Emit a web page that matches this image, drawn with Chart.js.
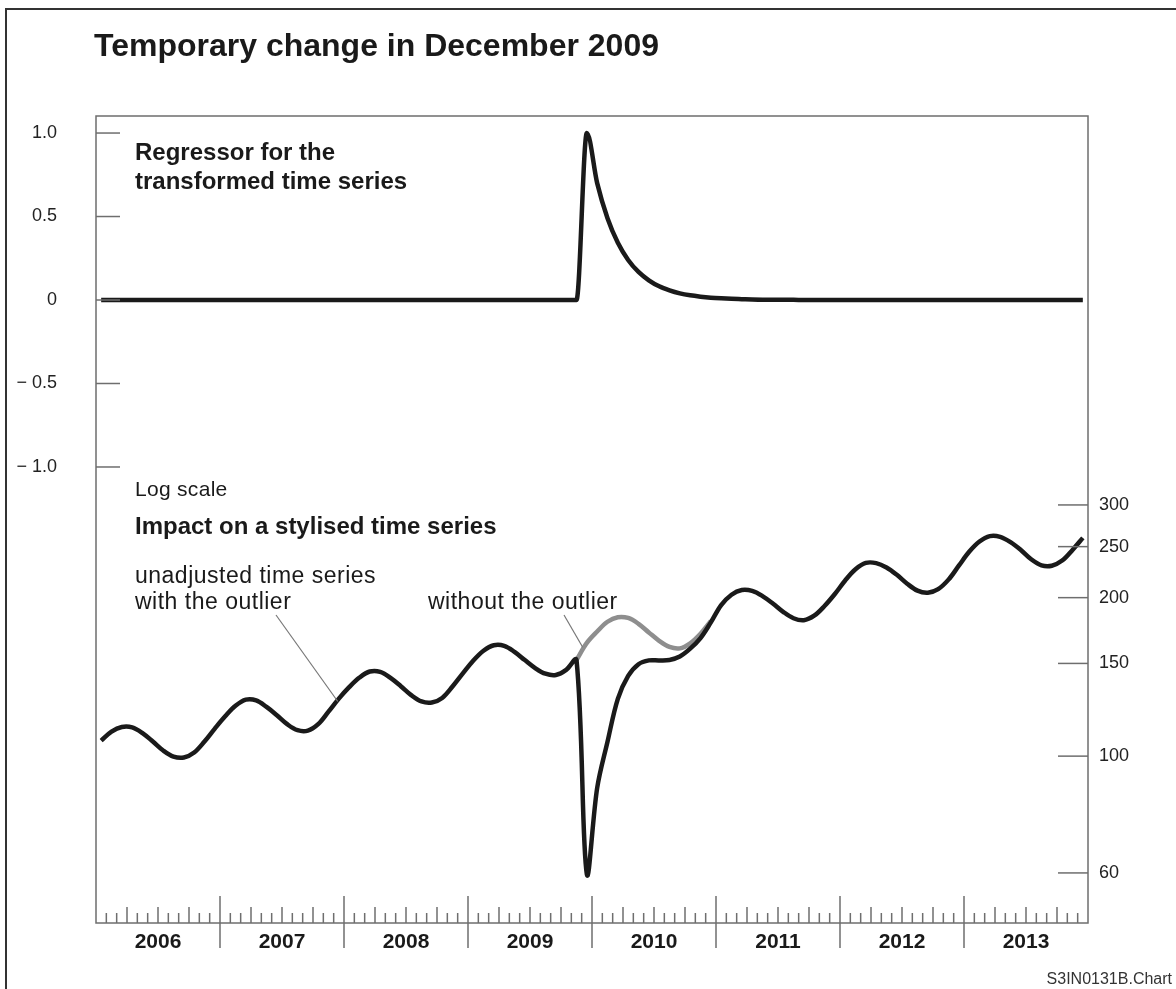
<!DOCTYPE html>
<html>
<head>
<meta charset="utf-8">
<script src="https://cdn.jsdelivr.net/npm/chart.js@4.4.1/dist/chart.umd.min.js"></script>
<style>
  html, body { margin: 0; padding: 0; background: #fff; }
  canvas { display: block; }
</style>
</head>
<body>
<canvas id="tcChart" width="1176" height="989"></canvas>
<script>
// x categories: monthly, Jan 2006 - Dec 2013
const years = ['2006', '2007', '2008', '2009', '2010', '2011', '2012', '2013'];
const monthNames = ['01', '02', '03', '04', '05', '06', '07', '08', '09', '10', '11', '12'];
const months = [];
years.forEach(y => monthNames.forEach(m => months.push(y + '-' + m)));

// upper panel: TC regressor (left axis)
const regressor = [
  0, 0, 0, 0, 0, 0, 0, 0, 0, 0, 0, 0,
  0, 0, 0, 0, 0, 0, 0, 0, 0, 0, 0, 0,
  0, 0, 0, 0, 0, 0, 0, 0, 0, 0, 0, 0,
  0, 0, 0, 0, 0, 0, 0, 0, 0, 0, 0, 1.0,
  0.7, 0.49, 0.343, 0.24, 0.168, 0.118, 0.082, 0.058, 0.04, 0.028, 0.02, 0.014,
  0.01, 0.007, 0.005, 0.003, 0.002, 0.002, 0.001, 0.001, 0, 0, 0, 0,
  0, 0, 0, 0, 0, 0, 0, 0, 0, 0, 0, 0,
  0, 0, 0, 0, 0, 0, 0, 0, 0, 0, 0, 0
];

// lower panel: stylised series (right log axis)
const withOutlier = [
  107.0, 111.3, 113.6, 113.4, 110.6, 106.6, 102.5, 99.8, 99.4, 101.6, 106.6, 112.8,
  119.0, 124.6, 128.0, 127.6, 124.0, 119.6, 115.0, 112.0, 111.8, 115.0, 121.5, 128.6,
  135.2, 141.0, 144.8, 144.6, 140.8, 135.8, 130.6, 127.0, 126.4, 129.0, 135.6, 143.6,
  151.8, 158.6, 162.4, 162.0, 157.8, 152.2, 147.0, 143.4, 142.6, 145.8, 152.3, 59.7,
  87.0, 106.5, 128.5, 142.0, 149.5, 152.0, 152.0, 152.3, 154.6, 160.0, 167.6, 179.5,
  193.6, 202.6, 206.8, 206.0, 201.4, 195.0, 188.0, 182.8, 181.2, 184.8, 192.8, 203.2,
  215.6, 226.4, 232.8, 232.6, 228.2, 221.0, 212.6, 206.2, 204.4, 207.6, 216.4, 230.0,
  244.4, 255.6, 261.8, 261.0, 255.0, 246.4, 236.6, 230.4, 230.0, 235.2, 246.4, 259.8
];

const withoutOutlier = [
  null, null, null, null, null, null, null, null, null, null, null, null,
  null, null, null, null, null, null, null, null, null, null, null, null,
  null, null, null, null, null, null, null, null, null, null, null, null,
  null, null, null, null, null, null, null, null, null, null, 152.3, 164.1,
  172.5, 180.0, 183.6, 183.0, 178.4, 171.8, 165.6, 161.2, 160.2, 163.8, 170.8, 180.6,
  null, null, null, null, null, null, null, null, null, null, null, null,
  null, null, null, null, null, null, null, null, null, null, null, null,
  null, null, null, null, null, null, null, null, null, null, null, null
];

const leftTicks = [1, 0.5, 0, -0.5, -1];
const rightTicks = [60, 100, 150, 200, 250, 300];

const chartFont = '"Liberation Sans", Arial, Helvetica, sans-serif';
const ink = '#1a1a1a';
const axisGrey = '#6e6e6e';

function line(ctx, x1, y1, x2, y2) {
    ctx.beginPath();
    ctx.moveTo(x1, y1);
    ctx.lineTo(x2, y2);
    ctx.stroke();
}

// text with a little tracking, the original face runs a bit wider than Liberation
function label(ctx, text, x, y, font, spacing) {
    ctx.font = font;
    ctx.letterSpacing = spacing + 'px';
    ctx.fillText(text, x, y);
    ctx.letterSpacing = '0px';
}

// box, inner ticks, month ruler and all the text
const decorations = {
    id: 'decorations',
    afterDraw(chart) {
        const ctx = chart.ctx;
        const area = chart.chartArea;
        const xs = chart.scales.x;
        const yl = chart.scales.yReg;
        const yr = chart.scales.yLog;

        ctx.save();

        // outer frame (left + top)
        ctx.strokeStyle = '#333';
        ctx.lineWidth = 2;
        ctx.beginPath();
        ctx.moveTo(6, 989);
        ctx.lineTo(6, 9);
        ctx.lineTo(1176, 9);
        ctx.stroke();

        // plot box
        ctx.strokeStyle = axisGrey;
        ctx.lineWidth = 1.5;
        ctx.strokeRect(area.left, area.top, area.right - area.left, area.bottom - area.top);

        // inner y ticks
        leftTicks.forEach(v => {
            const y = yl.getPixelForValue(v);
            line(ctx, area.left, y, area.left + 24, y);
        });
        rightTicks.forEach(v => {
            const y = yr.getPixelForValue(v);
            line(ctx, area.right - 30, y, area.right, y);
        });

        // month ruler
        for (let i = 1; i < months.length; i++) {
            const x = xs.getPixelForValue(i - 0.5);
            if (i % 12 === 0) {
                line(ctx, x, area.bottom - 27, x, area.bottom + 25);
            } else {
                line(ctx, x, area.bottom - (i % 3 === 0 ? 16 : 10), x, area.bottom);
            }
        }

        ctx.fillStyle = ink;
        ctx.textBaseline = 'middle';

        // year labels centred in each year
        ctx.textAlign = 'center';
        years.forEach((y, k) => {
            const x0 = xs.getPixelForValue(k * 12 - 0.5);
            const x1 = xs.getPixelForValue(k * 12 + 11.5);
            label(ctx, y, (x0 + x1) / 2, area.bottom + 19, 'bold 21px ' + chartFont, 0);
        });

        // title and panel texts
        ctx.textAlign = 'left';
        label(ctx, 'Temporary change in December 2009', 94, 47, 'bold 32px ' + chartFont, 0);

        const bold = 'bold 24px ' + chartFont;
        label(ctx, 'Regressor for the', 135, 153, bold, 0);
        label(ctx, 'transformed time series', 135, 182, bold, 0);
        label(ctx, 'Impact on a stylised time series', 135, 527, bold, 0);

        label(ctx, 'Log scale', 135, 490, '21px ' + chartFont, 0.3);

        const plain = '23px ' + chartFont;
        label(ctx, 'unadjusted time series', 135, 577, plain, 0.5);
        label(ctx, 'with the outlier', 135, 603, plain, 0.5);
        label(ctx, 'without the outlier', 428, 603, plain, 0.5);

        // leader lines
        ctx.strokeStyle = '#777';
        ctx.lineWidth = 1.2;
        line(ctx, 276, 615, xs.getPixelForValue(22.9), yr.getPixelForValue(127));
        line(ctx, 564, 615, xs.getPixelForValue(46.6), yr.getPixelForValue(161));

        // source tag
        ctx.textAlign = 'right';
        ctx.fillStyle = '#333';
        label(ctx, 'S3IN0131B.Chart', 1172, 980, '16px ' + chartFont, 0);

        ctx.restore();
    }
};

const ctx = document.getElementById('tcChart').getContext('2d');
const tcChart = new Chart(ctx, {
    type: 'line',
    data: {
        labels: months,
        datasets: [
            {
                label: 'Regressor',
                data: regressor,
                yAxisID: 'yReg',
                borderColor: ink,
                borderWidth: 4.5,
                pointRadius: 0,
                tension: 0.4,
                cubicInterpolationMode: 'monotone',
                order: 0
            },
            {
                label: 'unadjusted time series with the outlier',
                data: withOutlier,
                yAxisID: 'yLog',
                borderColor: ink,
                borderWidth: 4.5,
                pointRadius: 0,
                tension: 0.35,
                order: 0
            },
            {
                label: 'without the outlier',
                data: withoutOutlier,
                yAxisID: 'yLog',
                borderColor: '#8e8e8e',
                borderWidth: 4.5,
                pointRadius: 0,
                tension: 0.35,
                order: 1
            }
        ]
    },
    options: {
        responsive: false,
        animation: false,
        devicePixelRatio: 1,
        layout: { padding: { top: 116, left: 0, right: 0, bottom: 0 } },
        plugins: {
            legend: { display: false },
            tooltip: { enabled: false }
        },
        scales: {
            x: {
                type: 'category',
                offset: true,
                grid: { display: false },
                border: { display: false },
                ticks: { display: false },
                afterFit: s => { s.height = 66; }
            },
            yReg: {
                type: 'linear',
                position: 'left',
                min: -3.731,
                max: 1.102,
                bounds: 'data',
                grid: { display: false, drawTicks: false },
                border: { display: false },
                afterBuildTicks: s => { s.ticks = leftTicks.map(v => ({ value: v })); },
                afterFit: s => { s.width = 96; },
                ticks: {
                    padding: 39,
                    color: '#222',
                    font: { family: chartFont, size: 18 },
                    callback: v => v === 0 ? '0' : (v < 0 ? '\u2212 ' : '') + Math.abs(v).toFixed(1)
                }
            },
            yLog: {
                type: 'logarithmic',
                position: 'right',
                min: 48.2,
                max: 1644,
                bounds: 'data',
                grid: { display: false, drawTicks: false },
                border: { display: false },
                afterBuildTicks: s => { s.ticks = rightTicks.map(v => ({ value: v })); },
                afterFit: s => { s.width = 88; },
                ticks: {
                    padding: 11,
                    color: '#222',
                    font: { family: chartFont, size: 18 },
                    callback: v => String(v)
                }
            }
        }
    },
    plugins: [decorations]
});
</script>
</body>
</html>
